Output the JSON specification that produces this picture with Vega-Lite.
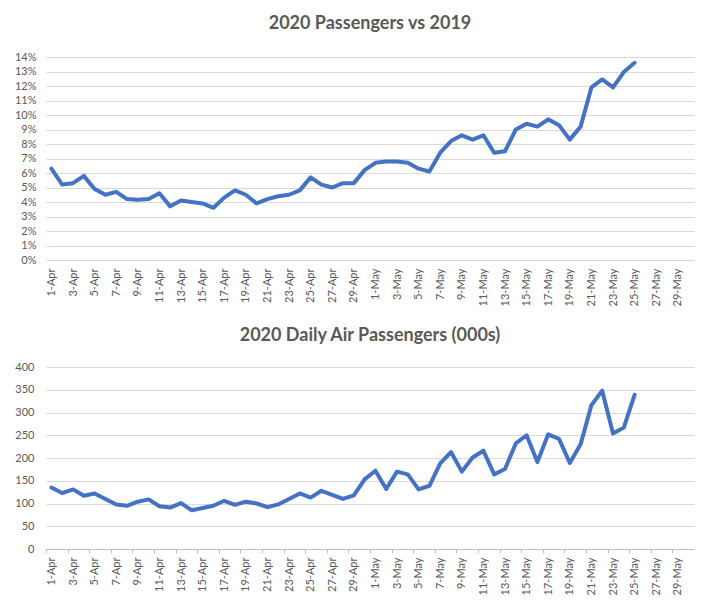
{
  "$schema": "https://vega.github.io/schema/vega-lite/v6.json",
  "padding": {"left": 14, "top": 15, "right": 22, "bottom": 10},
  "background": "white",
  "config": {
    "view": {"stroke": null},
    "font": "Lato",
    "axis": {"labelFont": "Lato", "labelFontSize": 11, "labelColor": "#595959", "titleColor": "#595959"},
    "title": {"font": "Lato", "fontSize": 18, "fontWeight": "bold", "color": "#595959", "anchor": "middle"}
  },
  "spacing": 21,
  "data": {"values": [
    {"date": "2020-04-01", "pct": 0.063, "pax": 135},
    {"date": "2020-04-02", "pct": 0.052, "pax": 123},
    {"date": "2020-04-03", "pct": 0.053, "pax": 131},
    {"date": "2020-04-04", "pct": 0.058, "pax": 117},
    {"date": "2020-04-05", "pct": 0.049, "pax": 122},
    {"date": "2020-04-06", "pct": 0.045, "pax": 110},
    {"date": "2020-04-07", "pct": 0.047, "pax": 98},
    {"date": "2020-04-08", "pct": 0.042, "pax": 95},
    {"date": "2020-04-09", "pct": 0.0415, "pax": 104},
    {"date": "2020-04-10", "pct": 0.042, "pax": 109},
    {"date": "2020-04-11", "pct": 0.046, "pax": 94},
    {"date": "2020-04-12", "pct": 0.037, "pax": 91},
    {"date": "2020-04-13", "pct": 0.041, "pax": 101},
    {"date": "2020-04-14", "pct": 0.040, "pax": 85},
    {"date": "2020-04-15", "pct": 0.039, "pax": 90},
    {"date": "2020-04-16", "pct": 0.036, "pax": 95},
    {"date": "2020-04-17", "pct": 0.043, "pax": 106},
    {"date": "2020-04-18", "pct": 0.048, "pax": 97},
    {"date": "2020-04-19", "pct": 0.045, "pax": 104},
    {"date": "2020-04-20", "pct": 0.039, "pax": 100},
    {"date": "2020-04-21", "pct": 0.042, "pax": 92},
    {"date": "2020-04-22", "pct": 0.044, "pax": 98},
    {"date": "2020-04-23", "pct": 0.045, "pax": 110},
    {"date": "2020-04-24", "pct": 0.048, "pax": 122},
    {"date": "2020-04-25", "pct": 0.057, "pax": 113},
    {"date": "2020-04-26", "pct": 0.052, "pax": 128},
    {"date": "2020-04-27", "pct": 0.050, "pax": 119},
    {"date": "2020-04-28", "pct": 0.053, "pax": 110},
    {"date": "2020-04-29", "pct": 0.053, "pax": 118},
    {"date": "2020-04-30", "pct": 0.062, "pax": 153},
    {"date": "2020-05-01", "pct": 0.067, "pax": 172},
    {"date": "2020-05-02", "pct": 0.068, "pax": 132},
    {"date": "2020-05-03", "pct": 0.068, "pax": 170},
    {"date": "2020-05-04", "pct": 0.067, "pax": 164},
    {"date": "2020-05-05", "pct": 0.063, "pax": 131},
    {"date": "2020-05-06", "pct": 0.061, "pax": 139},
    {"date": "2020-05-07", "pct": 0.074, "pax": 188},
    {"date": "2020-05-08", "pct": 0.082, "pax": 213},
    {"date": "2020-05-09", "pct": 0.086, "pax": 170},
    {"date": "2020-05-10", "pct": 0.083, "pax": 201},
    {"date": "2020-05-11", "pct": 0.086, "pax": 216},
    {"date": "2020-05-12", "pct": 0.074, "pax": 164},
    {"date": "2020-05-13", "pct": 0.075, "pax": 176},
    {"date": "2020-05-14", "pct": 0.090, "pax": 232},
    {"date": "2020-05-15", "pct": 0.094, "pax": 250},
    {"date": "2020-05-16", "pct": 0.092, "pax": 191},
    {"date": "2020-05-17", "pct": 0.097, "pax": 252},
    {"date": "2020-05-18", "pct": 0.093, "pax": 242},
    {"date": "2020-05-19", "pct": 0.083, "pax": 189},
    {"date": "2020-05-20", "pct": 0.092, "pax": 230},
    {"date": "2020-05-21", "pct": 0.119, "pax": 316},
    {"date": "2020-05-22", "pct": 0.1245, "pax": 348},
    {"date": "2020-05-23", "pct": 0.119, "pax": 254},
    {"date": "2020-05-24", "pct": 0.1296, "pax": 267},
    {"date": "2020-05-25", "pct": 0.136, "pax": 339}
  ]},
  "vconcat": [
    {
      "title": {"text": "2020 Passengers vs 2019", "offset": 18},
      "width": 648,
      "height": 203,
      "mark": {"type": "line", "color": "#4472C4", "strokeWidth": 4, "strokeJoin": "round", "strokeCap": "round"},
      "encoding": {
        "x": {
          "field": "date", "type": "temporal",
          "scale": {"type": "utc", "domain": [
            {"year": 2020, "month": "mar", "date": 31, "hours": 12, "utc": true},
            {"year": 2020, "month": "may", "date": 30, "hours": 12, "utc": true}
          ]},
          "axis": {"title": null, "format": "%-d-%b", "tickCount": {"interval": "day", "step": 2}, "labelAngle": -90, "labelPadding": 8, "ticks": false, "domain": false, "grid": false, "labelOverlap": false, "labelBound": false, "labelFlush": false}
        },
        "y": {
          "field": "pct", "type": "quantitative",
          "scale": {"domain": [0, 0.14], "nice": false},
          "axis": {"title": null, "format": ".0%", "values": [0, 0.01, 0.02, 0.03, 0.04, 0.05, 0.06, 0.07, 0.08, 0.09, 0.1, 0.11, 0.12, 0.13, 0.14], "ticks": false, "domain": false, "gridColor": "#D9D9D9", "labelPadding": 10}
        }
      }
    },
    {
      "title": {"text": "2020 Daily Air Passengers (000s)", "offset": 16},
      "width": 648,
      "height": 182,
      "mark": {"type": "line", "color": "#4472C4", "strokeWidth": 4, "strokeJoin": "round", "strokeCap": "round"},
      "encoding": {
        "x": {
          "field": "date", "type": "temporal",
          "scale": {"type": "utc", "domain": [
            {"year": 2020, "month": "mar", "date": 31, "hours": 12, "utc": true},
            {"year": 2020, "month": "may", "date": 30, "hours": 12, "utc": true}
          ]},
          "axis": {"title": null, "format": "%-d-%b", "tickCount": {"interval": "day", "step": 2}, "labelAngle": -90, "labelPadding": 4, "ticks": true, "tickSize": 4, "tickColor": "#BFBFBF", "tickOffset": -5.4, "labelOffset": 5.4, "domain": true, "domainColor": "#BFBFBF", "grid": false, "labelOverlap": false, "labelBound": false, "labelFlush": false}
        },
        "y": {
          "field": "pax", "type": "quantitative",
          "scale": {"domain": [0, 400], "nice": false},
          "axis": {"title": null, "values": [0, 50, 100, 150, 200, 250, 300, 350, 400], "ticks": false, "domain": false, "gridColor": "#D9D9D9", "labelPadding": 12}
        }
      }
    }
  ]
}
